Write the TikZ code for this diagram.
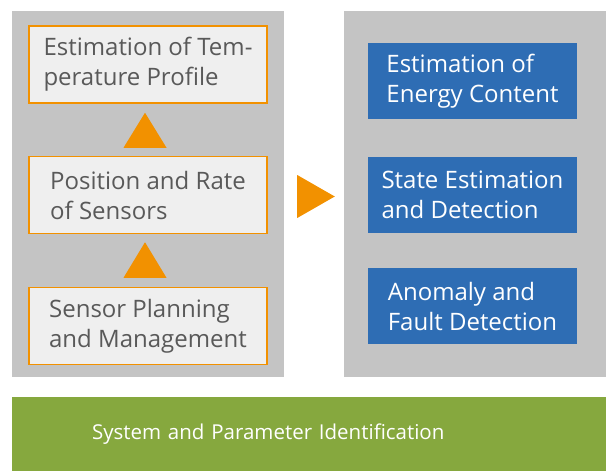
\documentclass[tikz,border=0pt]{standalone}
\usepackage{fontspec}
\setmainfont{Open Sans}
\definecolor{panelgray}{RGB}{196,196,196}
\definecolor{boxgray}{RGB}{239,239,239}
\definecolor{darkorange}{RGB}{242,145,0}
\definecolor{textgray}{RGB}{89,89,89}
\definecolor{stateblue}{RGB}{46,109,180}
\definecolor{idgreen}{RGB}{134,168,62}
\usetikzlibrary{positioning,calc}

\begin{document}
\begin{tikzpicture}[x=1pt,y=-1pt,
    panel/.style={fill=panelgray, minimum height=366, inner sep=0pt},
    tempbox/.style={fill=boxgray, draw=darkorange, line width=1.5pt, minimum width=238, minimum height=77, align=left, text=textgray, font=\fontsize{24}{30}\selectfont},
    estbox/.style={fill=stateblue, minimum width=209, minimum height=76, align=left, text=white, font=\fontsize{24}{30}\selectfont},
    blockarrow/.style={fill=darkorange}]
    \useasboundingbox (0,0) rectangle (606,471);
    \node[panel, minimum width=272] (lpanel) at (148,194) {};
    \node[panel, minimum width=262] (rpanel) at (475,194) {};
    \node[tempbox] (temp) at (148,64.5) {Estimation of Tem-\\perature Profile};
    \node[tempbox] (sensors) at (148,195) {Position and Rate\\of Sensors};
    \node[tempbox] (planning) at (148,326) {Sensor Planning\\and Management};
    \node[estbox] (energy) at (472.5,81) {Estimation of\\Energy Content};
    \node[estbox] (state) at (472.5,194.5) {State Estimation\\and Detection};
    \node[estbox] (anomaly) at (472.5,306) {Anomaly and\\Fault Detection};
    \node[fill=idgreen, minimum height=74, inner xsep=80pt, text width=434pt, align=left, text=white, font=\fontsize{20.5}{30}\selectfont] (ident) at (309,434) {System and Parameter Identification};
    \fill[blockarrow] ($(sensors.north)+(-24.5,-8)$) -- ($(temp.south)+(-3,9)$) -- ($(sensors.north)+(18.5,-8)$) -- cycle;
    \fill[blockarrow] ($(planning.north)+(-24.5,-9)$) -- ($(sensors.south)+(-3,8)$) -- ($(planning.north)+(18.5,-9)$) -- cycle;
    \fill[blockarrow] ($(lpanel.east)+(13,-19)$) -- ($(rpanel.west)+(-9,2.5)$) -- ($(lpanel.east)+(13,24)$) -- cycle;
\end{tikzpicture}
\end{document}
